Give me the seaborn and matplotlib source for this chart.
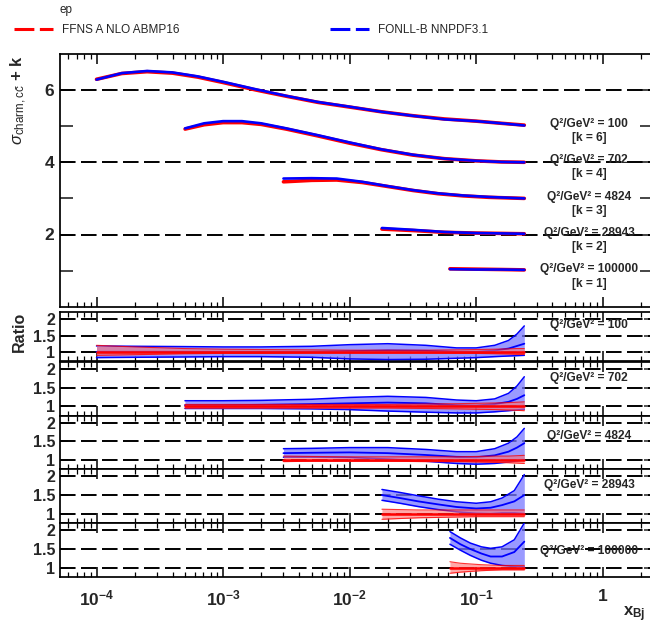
import matplotlib
matplotlib.use("Agg")
import matplotlib.pyplot as plt
import seaborn as sns
from matplotlib.lines import Line2D
from matplotlib.ticker import FixedLocator, FixedFormatter, LogLocator, NullFormatter

# ---------------- data ----------------
Q2_LABELS = ["100", "702", "4824", "28943", "100000"]
K_OFFSETS = [6, 4, 3, 2, 1]

# top panel: sigma_charm + k
X_Q100 = [1e-4, 1.585e-4, 2.512e-4, 3.98e-4, 6.31e-4, 1e-3, 1.778e-3, 3.162e-3, 5.623e-3,
          1e-2, 1.778e-2, 3.162e-2, 5.623e-2, 0.1, 0.1585, 0.24]
SIG_Q100_FONLL = [6.29, 6.47, 6.53, 6.49, 6.38, 6.23, 6.03, 5.84, 5.67, 5.54, 5.40, 5.29, 5.19, 5.14, 5.08, 5.02]
SIG_Q100_FFNS = [6.30, 6.46, 6.51, 6.47, 6.36, 6.21, 6.01, 5.83, 5.66, 5.53, 5.40, 5.29, 5.20, 5.14, 5.08, 5.03]

X_Q702 = [5.01e-4, 7.08e-4, 1e-3, 1.41e-3, 2.0e-3, 3.162e-3, 5.623e-3, 1e-2, 1.778e-2, 3.162e-2,
          5.623e-2, 0.1, 0.1585, 0.24]
SIG_Q702_FONLL = [4.94, 5.08, 5.14, 5.14, 5.08, 4.94, 4.75, 4.55, 4.36, 4.21, 4.10, 4.04, 4.01, 4.00]
SIG_Q702_FFNS = [4.92, 5.04, 5.10, 5.10, 5.05, 4.92, 4.73, 4.53, 4.35, 4.20, 4.10, 4.04, 4.01, 4.00]

X_Q4824 = [3.0e-3, 5.0e-3, 7.9e-3, 1.26e-2, 2.0e-2, 3.16e-2, 5.0e-2, 7.9e-2, 0.126, 0.24]
SIG_Q4824_FONLL = [3.55, 3.56, 3.55, 3.46, 3.34, 3.23, 3.14, 3.08, 3.04, 3.00]
SIG_Q4824_FFNS = [3.46, 3.50, 3.51, 3.44, 3.33, 3.22, 3.13, 3.07, 3.03, 3.00]

X_Q28943 = [0.018, 0.0316, 0.0562, 0.1, 0.1585, 0.24]
SIG_Q28943_FONLL = [2.18, 2.13, 2.07, 2.04, 2.03, 2.02]
SIG_Q28943_FFNS = [2.15, 2.11, 2.06, 2.04, 2.03, 2.02]

X_Q100000 = [0.062, 0.1, 0.1585, 0.24]
SIG_Q100000_FONLL = [1.04, 1.03, 1.03, 1.02]
SIG_Q100000_FFNS = [1.05, 1.04, 1.03, 1.02]

# ratio panels (FONLL-B / FFNS and FFNS band), upper / central / lower
RX_Q100 = [1e-4, 2e-4, 5e-4, 1e-3, 2e-3, 5e-3, 1e-2, 2e-2, 4e-2, 7e-2, 0.1, 0.14, 0.18, 0.21, 0.24]
RB_HI_Q100 = [1.18, 1.17, 1.16, 1.15, 1.15, 1.17, 1.22, 1.25, 1.20, 1.12, 1.12, 1.20, 1.35, 1.55, 1.80]
RB_MID_Q100 = [1.00, 1.00, 1.00, 1.00, 1.00, 1.00, 1.02, 1.04, 1.03, 1.00, 1.00, 1.04, 1.10, 1.18, 1.25]
RB_LO_Q100 = [0.82, 0.83, 0.84, 0.85, 0.85, 0.83, 0.78, 0.76, 0.77, 0.80, 0.82, 0.85, 0.87, 0.88, 0.89]
RR_HI_Q100 = [1.20, 1.15, 1.10, 1.08, 1.07, 1.06, 1.05, 1.05, 1.05, 1.06, 1.07, 1.08, 1.09, 1.10, 1.10]
RR_LO_Q100 = [0.89, 0.91, 0.94, 0.95, 0.95, 0.96, 0.96, 0.96, 0.96, 0.95, 0.95, 0.94, 0.93, 0.92, 0.92]

RX_Q702 = [5e-4, 1e-3, 2e-3, 5e-3, 1e-2, 2e-2, 4e-2, 7e-2, 0.1, 0.14, 0.18, 0.21, 0.24]
RB_HI_Q702 = [1.15, 1.15, 1.16, 1.19, 1.24, 1.27, 1.24, 1.17, 1.15, 1.20, 1.35, 1.55, 1.80]
RB_MID_Q702 = [1.03, 1.03, 1.04, 1.06, 1.08, 1.10, 1.08, 1.03, 1.02, 1.06, 1.12, 1.20, 1.30]
RB_LO_Q702 = [0.94, 0.94, 0.94, 0.93, 0.91, 0.87, 0.84, 0.82, 0.82, 0.85, 0.88, 0.90, 0.92]
RR_HI_Q702 = [1.05, 1.05, 1.05, 1.05, 1.05, 1.05, 1.06, 1.07, 1.08, 1.09, 1.10, 1.11, 1.12]
RR_LO_Q702 = [0.95, 0.95, 0.95, 0.95, 0.95, 0.95, 0.94, 0.93, 0.92, 0.91, 0.90, 0.89, 0.88]

RX_Q4824 = [3e-3, 5e-3, 1e-2, 2e-2, 4e-2, 7e-2, 0.1, 0.14, 0.18, 0.21, 0.24]
RB_HI_Q4824 = [1.30, 1.31, 1.33, 1.33, 1.28, 1.22, 1.22, 1.30, 1.45, 1.62, 1.85]
RB_MID_Q4824 = [1.18, 1.19, 1.20, 1.18, 1.13, 1.08, 1.07, 1.12, 1.22, 1.33, 1.45]
RB_LO_Q4824 = [1.07, 1.07, 1.06, 1.02, 0.96, 0.90, 0.88, 0.90, 0.94, 0.97, 1.00]
RR_HI_Q4824 = [1.10, 1.09, 1.08, 1.08, 1.08, 1.08, 1.09, 1.10, 1.10, 1.11, 1.12]
RR_LO_Q4824 = [0.95, 0.96, 0.96, 0.96, 0.95, 0.95, 0.94, 0.93, 0.92, 0.91, 0.90]

RX_Q28943 = [0.018, 0.025, 0.035, 0.05, 0.07, 0.1, 0.13, 0.16, 0.2, 0.24]
RB_HI_Q28943 = [1.65, 1.57, 1.48, 1.39, 1.32, 1.28, 1.32, 1.42, 1.62, 2.05]
RB_MID_Q28943 = [1.50, 1.42, 1.33, 1.25, 1.18, 1.14, 1.16, 1.23, 1.33, 1.50]
RB_LO_Q28943 = [1.36, 1.28, 1.19, 1.11, 1.05, 1.01, 1.00, 1.02, 1.02, 1.00]
RR_HI_Q28943 = [1.12, 1.11, 1.10, 1.10, 1.10, 1.10, 1.10, 1.10, 1.10, 1.10]
RR_LO_Q28943 = [0.85, 0.87, 0.89, 0.90, 0.91, 0.92, 0.92, 0.92, 0.92, 0.92]

RX_Q100000 = [0.062, 0.075, 0.09, 0.11, 0.13, 0.16, 0.2, 0.24]
RB_HI_Q100000 = [1.97, 1.80, 1.66, 1.56, 1.52, 1.56, 1.75, 2.20]
RB_MID_Q100000 = [1.80, 1.63, 1.50, 1.38, 1.30, 1.30, 1.42, 1.70]
RB_LO_Q100000 = [1.63, 1.47, 1.33, 1.20, 1.12, 1.06, 1.03, 1.02]
RR_HI_Q100000 = [1.16, 1.12, 1.10, 1.08, 1.07, 1.06, 1.06, 1.06]
RR_LO_Q100000 = [0.85, 0.88, 0.90, 0.92, 0.93, 0.94, 0.94, 0.94]

X_TICK_LABELS = ["$\\mathbf{10^{-4}}$", "$\\mathbf{10^{-3}}$", "$\\mathbf{10^{-2}}$",
                 "$\\mathbf{10^{-1}}$", "$\\mathbf{1}$"]
X_TICKS = [1e-4, 1e-3, 1e-2, 1e-1, 1.0]

# ---------------- style ----------------
sns.set_style("white")
plt.rcParams["font.family"] = ["Liberation Sans", "DejaVu Sans"]
plt.rcParams["mathtext.fontset"] = "custom"
plt.rcParams["mathtext.rm"] = "Liberation Sans"
plt.rcParams["mathtext.bf"] = "Liberation Sans:bold"
plt.rcParams["mathtext.it"] = "Liberation Sans:italic"

RED = "#ff0000"
BLUE = "#0000ff"
BLUE_FILL = "#7878ff"
RED_FILL = "#ff7070"
GRID_DASH = (0, (8, 2.8))

W, H = 650, 630
fig = plt.figure(figsize=(W / 100, H / 100), dpi=100)

LEFT_PX, RIGHT_PX = 59.5, 652


def add_ax(top_px, bot_px):
    return fig.add_axes([LEFT_PX / W, 1 - bot_px / H, (RIGHT_PX - LEFT_PX) / W, (bot_px - top_px) / H])


XLIM = (5.1e-5, 2.45)


def style_x(ax, labels):
    ax.set_xscale("log")
    ax.set_xlim(*XLIM)
    ax.xaxis.set_major_locator(FixedLocator(X_TICKS))
    ax.xaxis.set_minor_locator(LogLocator(base=10, subs=range(2, 10), numticks=20))
    ax.xaxis.set_minor_formatter(NullFormatter())
    if labels:
        ax.xaxis.set_major_formatter(FixedFormatter(X_TICK_LABELS))
    else:
        ax.xaxis.set_major_formatter(NullFormatter())
    ax.tick_params(axis="x", which="major", direction="in", top=True, bottom=True,
                   length=7, width=1.1, labelsize=12.5, pad=8, color="black")
    ax.tick_params(axis="x", which="minor", direction="in", top=True, bottom=True,
                   length=3.5, width=0.9, color="black")
    for s in ax.spines.values():
        s.set_linewidth(1.25)
        s.set_color("black")


# ---------------- top panel ----------------
ax0 = add_ax(54, 306.7)
style_x(ax0, False)
ax0.set_ylim(0, 7)
for g in [2, 4, 6]:
    ax0.axhline(g, color="black", lw=1.4, ls=GRID_DASH, zorder=1)

top_sets = [
    (X_Q100, SIG_Q100_FFNS, SIG_Q100_FONLL),
    (X_Q702, SIG_Q702_FFNS, SIG_Q702_FONLL),
    (X_Q4824, SIG_Q4824_FFNS, SIG_Q4824_FONLL),
    (X_Q28943, SIG_Q28943_FFNS, SIG_Q28943_FONLL),
    (X_Q100000, SIG_Q100000_FFNS, SIG_Q100000_FONLL),
]
for xs, ffns, fonll in top_sets:
    sns.lineplot(x=xs, y=ffns, ax=ax0, color=RED, lw=2.6, legend=False, zorder=3)
    sns.lineplot(x=xs, y=fonll, ax=ax0, color=BLUE, lw=1.9, legend=False, zorder=4)

ax0.yaxis.set_major_locator(FixedLocator([1, 2, 3, 4, 5, 6]))
ax0.yaxis.set_major_formatter(FixedFormatter(["", "2", "", "4", "", "6"]))
ax0.tick_params(axis="y", which="major", direction="in", left=True, right=True,
                length=9, width=1.2, labelsize=12.5, pad=4)
for lbl in ax0.get_yticklabels():
    lbl.set_fontweight("bold")

label_y = [(5.06, 4.67), (4.06, 3.67), (3.05, 2.66), (2.05, 1.65), (1.04, 0.64)]
for q2, k, (yq, yk) in zip(Q2_LABELS, K_OFFSETS, label_y):
    ax0.text(0.78, yq, f"Q²/GeV² = {q2}", ha="center", va="center", fontsize=8.6,
             fontweight="bold", zorder=5)
    ax0.text(0.78, yk, f"[k = {k}]", ha="center", va="center", fontsize=8.6,
             fontweight="bold", zorder=5)

# ---------------- ratio panels ----------------
ratio_sets = [
    (RX_Q100, RB_HI_Q100, RB_MID_Q100, RB_LO_Q100, RR_HI_Q100, RR_LO_Q100),
    (RX_Q702, RB_HI_Q702, RB_MID_Q702, RB_LO_Q702, RR_HI_Q702, RR_LO_Q702),
    (RX_Q4824, RB_HI_Q4824, RB_MID_Q4824, RB_LO_Q4824, RR_HI_Q4824, RR_LO_Q4824),
    (RX_Q28943, RB_HI_Q28943, RB_MID_Q28943, RB_LO_Q28943, RR_HI_Q28943, RR_LO_Q28943),
    (RX_Q100000, RB_HI_Q100000, RB_MID_Q100000, RB_LO_Q100000, RR_HI_Q100000, RR_LO_Q100000),
]
panel_px = [(311.7, 361.0), (362.0, 415.5), (415.5, 469.0), (469.0, 523.0), (523.0, 577.0)]
ylims = [(0.715, 2.24), (0.75, 2.2), (0.75, 2.2), (0.75, 2.2), (0.75, 2.2)]
ratio_label_y = [1.82, 1.76, 1.65, 1.77, 1.46]

for i, ((tp, bp), data, yl, ly, q2) in enumerate(zip(panel_px, ratio_sets, ylims, ratio_label_y, Q2_LABELS)):
    ax = add_ax(tp, bp)
    style_x(ax, i == len(panel_px) - 1)
    ax.set_ylim(*yl)
    for g in [1.0, 1.5, 2.0]:
        ax.axhline(g, color="black", lw=1.4, ls=GRID_DASH, zorder=1)
    xs, bhi, bmid, blo, rhi, rlo = data
    ax.fill_between(xs, blo, bhi, color=BLUE_FILL, alpha=0.75, lw=0, zorder=2)
    for yv, lw in [(bhi, 1.1), (bmid, 1.3), (blo, 1.1)]:
        sns.lineplot(x=xs, y=yv, ax=ax, color=BLUE, lw=lw, legend=False, zorder=3)
    ax.fill_between(xs, rlo, rhi, color=RED_FILL, alpha=0.6, lw=0, zorder=4)
    sns.lineplot(x=xs, y=[1.0] * len(xs), ax=ax, color=RED, lw=1.8, legend=False, zorder=5)
    for yv in (rhi, rlo):
        sns.lineplot(x=xs, y=yv, ax=ax, color=RED, lw=0.8, alpha=0.8, legend=False, zorder=5)
    ax.yaxis.set_major_locator(FixedLocator([1.0, 1.5, 2.0]))
    ax.yaxis.set_major_formatter(FixedFormatter(["1", "1.5", "2"]))
    ax.tick_params(axis="y", which="major", direction="in", left=True, right=True,
                   length=6, width=1.1, labelsize=11.5, pad=3)
    for lbl in ax.get_yticklabels():
        lbl.set_fontweight("bold")
    ax.text(0.78, ly, f"Q²/GeV² = {q2}", ha="center", va="center", fontsize=8.6,
            fontweight="bold", zorder=6)
    ax.set_ylabel("")
    ax.set_xlabel("")

# ---------------- axis titles ----------------
fig.text(19 / W, 1 - 55 / H, r"$\sigma_{\mathrm{charm,c\bar{c}}}$ + k", rotation=90,
         ha="center", va="top", fontsize=12, fontweight="bold")
fig.text(19 / W, 1 - 312 / H, "Ratio", rotation=90, ha="center", va="top",
         fontsize=11.5, fontweight="bold")
fig.text(634 / W, 1 - 614 / H, r"$\mathbf{x_{Bj}}$", ha="center", va="center", fontsize=12)

# ---------------- legend ----------------
fig.text(60 / W, 1 - 10 / H, "ep", ha="left", va="center", fontsize=8.5)
handles = [Line2D([], [], color=RED, lw=2.2, ls=(0, (6.5, 1.8))),
           Line2D([], [], color=BLUE, lw=2.2, ls=(0, (6.5, 1.8)))]
fig.legend(handles, ["FFNS A NLO ABMP16", "FONLL-B NNPDF3.1"], loc="center left",
           bbox_to_anchor=(14 / W, 1 - 30 / H), ncol=2, frameon=False, fontsize=8.5,
           handlelength=3.3, handletextpad=0.75, columnspacing=12.8, borderpad=0,
           borderaxespad=0)

fig.savefig("out.png", dpi=100)
